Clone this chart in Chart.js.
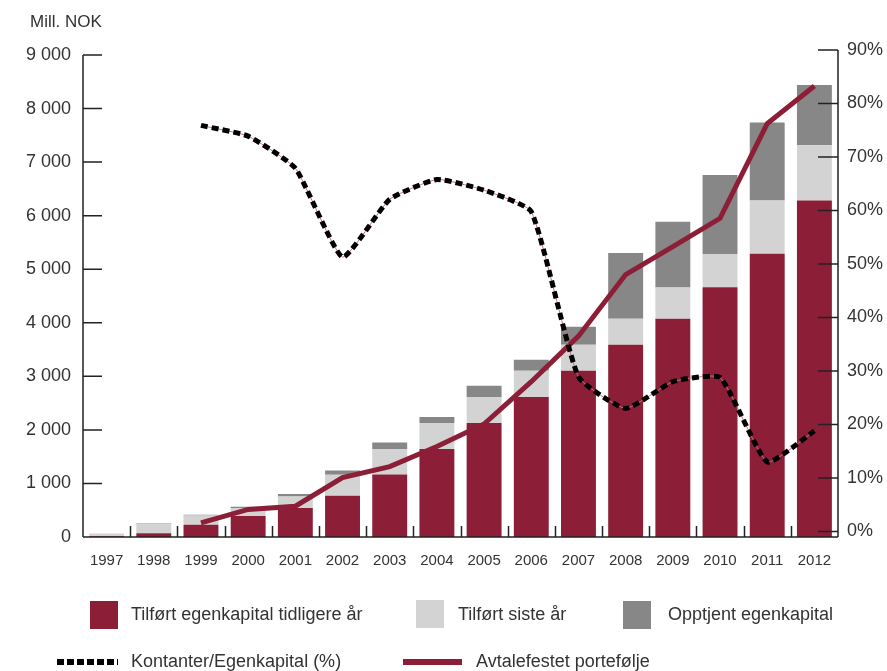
<!DOCTYPE html>
<html>
<head>
<meta charset="utf-8">
<script src="https://cdn.jsdelivr.net/npm/chart.js@4"></script>
<style>
  body { margin: 0; background: #fff; }
  #wrap { position: relative; width: 887px; height: 671px; overflow: hidden; font-family: "Liberation Sans", Arial, sans-serif; color: #333; }
  #unit { position: absolute; left: 30px; top: 12px; font-size: 17px; }
  .lg { position: absolute; font-size: 18px; white-space: nowrap; }
  .sw { position: absolute; }
</style>
</head>
<body>
<div id="wrap">
  <canvas id="chart" width="887" height="671"></canvas>
  <div id="unit">Mill. NOK</div>

  <div class="sw" style="left:90px;top:601px;width:28px;height:28px;background:#8c1f37"></div>
  <div class="lg" style="left:131px;top:604px">Tilført egenkapital tidligere år</div>
  <div class="sw" style="left:416px;top:600px;width:28px;height:28px;background:#d3d3d3"></div>
  <div class="lg" style="left:458px;top:604px">Tilført siste år</div>
  <div class="sw" style="left:623px;top:601px;width:28px;height:28px;background:#878787"></div>
  <div class="lg" style="left:668px;top:604px">Opptjent egenkapital</div>

  <div class="sw" style="left:57px;top:659px;width:61px;height:6px;background:repeating-linear-gradient(90deg,#000 0 7px,transparent 7px 10px)"></div>
  <div class="lg" style="left:131px;top:651px">Kontanter/Egenkapital (%)</div>
  <div class="sw" style="left:403px;top:659px;width:59px;height:6px;background:#8c1f37"></div>
  <div class="lg" style="left:476px;top:651px">Avtalefestet portefølje</div>
</div>
<script>
// data
const years = ["1997","1998","1999","2000","2001","2002","2003","2004","2005","2006","2007","2008","2009","2010","2011","2012"];
const tidligere = [15, 70, 230, 390, 540, 770, 1165, 1645, 2130, 2615, 3105, 3590, 4075, 4665, 5290, 6285];
const sisteAr = [50, 170, 170, 150, 215, 390, 480, 485, 485, 490, 485, 485, 585, 620, 995, 1030];
const opptjent = [0, 10, 15, 25, 50, 80, 120, 110, 210, 205, 335, 1230, 1225, 1475, 1455, 1125];
const kontanter = [null, null, 75.9, 73.9, 67.9, 51.3, 62.1, 65.8, 63.8, 59.8, 28.9, 23.0, 28.0, 28.8, 13.0, 18.8];
const portefolje = [null, null, 265, 515, 575, 1110, 1315, 1690, 2110, 2900, 3750, 4900, 5420, 5950, 7720, 8420];

const leftTicks = [0, 1000, 2000, 3000, 4000, 5000, 6000, 7000, 8000, 9000];
const leftLabels = ["0", "1 000", "2 000", "3 000", "4 000", "5 000", "6 000", "7 000", "8 000", "9 000"];
const rightTicks = [0, 10, 20, 30, 40, 50, 60, 70, 80, 90];
const rightLabels = ["0%", "10%", "20%", "30%", "40%", "50%", "60%", "70%", "80%", "90%"];

const RED = "#8c1f37";
const tickFont = { family: "Liberation Sans", size: 18 };

// axis lines and inward tick marks
const axisPlugin = {
  id: "axes",
  afterDatasetsDraw(chart) {
    const { ctx, scales } = chart;
    const x = scales.x, y = scales.y, y1 = scales.y1;
    const bottom = y.getPixelForValue(0);
    ctx.save();
    ctx.strokeStyle = "#222";
    ctx.lineWidth = 1.5;
    ctx.beginPath();
    // left axis
    ctx.moveTo(x.left, y.getPixelForValue(9000));
    ctx.lineTo(x.left, bottom);
    leftTicks.forEach(v => {
      const py = y.getPixelForValue(v);
      ctx.moveTo(x.left, py);
      ctx.lineTo(x.left + 19, py);
    });
    // right axis
    ctx.moveTo(x.right, y1.getPixelForValue(90));
    ctx.lineTo(x.right, bottom);
    rightTicks.forEach(v => {
      const py = y1.getPixelForValue(v);
      ctx.moveTo(x.right, py);
      ctx.lineTo(x.right - 20, py);
    });
    // bottom axis
    ctx.moveTo(x.left, bottom);
    ctx.lineTo(x.right, bottom);
    const step = (x.right - x.left) / years.length;
    for (let i = 1; i < years.length; i++) {
      const px = Math.round(x.left + i * step) + 0.5;
      ctx.moveTo(px, bottom);
      ctx.lineTo(px, bottom - 11);
    }
    ctx.stroke();
    ctx.restore();
  }
};

let chart = new Chart(document.getElementById("chart").getContext("2d"), {
  type: "bar",
  data: {
    labels: years,
    datasets: [
      { type: "line", label: "Kontanter/Egenkapital (%)", data: kontanter, yAxisID: "y1", stack: "k",
        borderColor: "#000", borderWidth: 5, borderDash: [7, 4], pointRadius: 0, tension: 0.15, order: 0 },
      { type: "line", label: "kontanter-linje", data: kontanter, yAxisID: "y1", stack: "k2",
        borderColor: "#c0707f", borderWidth: 1, pointRadius: 0, tension: 0.15, order: 1 },
      { type: "line", label: "Avtalefestet portefølje", data: portefolje, yAxisID: "y", stack: "p",
        borderColor: RED, borderWidth: 5, pointRadius: 0, tension: 0, order: 2 },
      { label: "Tilført egenkapital tidligere år", data: tidligere, backgroundColor: RED, stack: "b", order: 3 },
      { label: "Tilført siste år", data: sisteAr, backgroundColor: "#d3d3d3", stack: "b", order: 3 },
      { label: "Opptjent egenkapital", data: opptjent, backgroundColor: "#878787", stack: "b", order: 3 }
    ]
  },
  options: {
    responsive: false,
    animation: false,
    layout: { padding: { top: 50, left: 0, right: 0, bottom: 0 } },
    datasets: { bar: { barPercentage: 0.74, categoryPercentage: 1 } },
    plugins: { legend: { display: false }, tooltip: { enabled: false } },
    scales: {
      x: {
        stacked: true,
        grid: { display: false, drawTicks: false },
        border: { display: false },
        ticks: { color: "#333", font: { family: "Liberation Sans", size: 15 }, padding: 15, maxRotation: 0 },
        afterFit(s) { s.height = 134; }
      },
      y: {
        stacked: true,
        position: "left",
        min: 0,
        max: 9093,
        grid: { display: false, drawTicks: false },
        border: { display: false },
        afterBuildTicks(s) { s.ticks = leftTicks.map(v => ({ value: v })); },
        ticks: { color: "#333", font: tickFont, padding: 12, callback: (v) => leftLabels[leftTicks.indexOf(v)] },
        afterFit(s) { s.width = 83; }
      },
      y1: {
        position: "right",
        min: -1.03,
        max: 90,
        grid: { display: false, drawTicks: false },
        border: { display: false },
        afterBuildTicks(s) { s.ticks = rightTicks.map(v => ({ value: v })); },
        ticks: { color: "#333", font: tickFont, padding: 9, callback: (v) => rightLabels[rightTicks.indexOf(v)] },
        afterFit(s) { s.width = 49; }
      }
    }
  },
  plugins: [axisPlugin]
});
</script>
</body>
</html>
